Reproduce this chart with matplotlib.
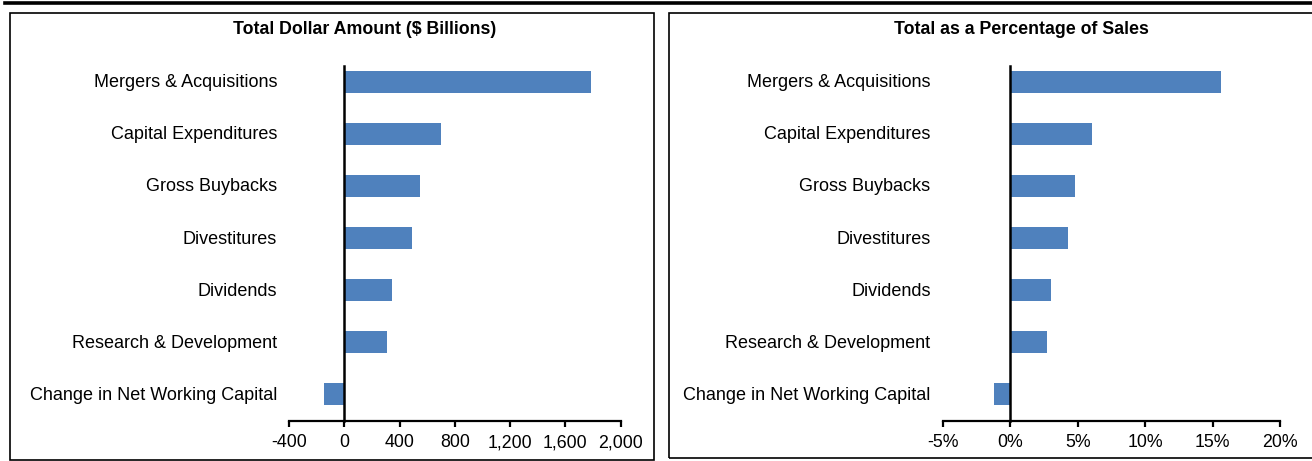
import matplotlib
matplotlib.use("Agg")
import matplotlib.pyplot as plt
from matplotlib.patches import Rectangle
from matplotlib.lines import Line2D
from matplotlib.ticker import FuncFormatter

categories = ["Mergers & Acquisitions", "Capital Expenditures", "Gross Buybacks",
              "Divestitures", "Dividends", "Research & Development",
              "Change in Net Working Capital"]
dollars = [1790, 704, 547, 490, 347, 306, -143]          # $ billions
pct_sales = [15.6, 6.1, 4.8, 4.3, 3.0, 2.7, -1.2]        # % of sales

BLUE = "#4F81BD"
W, H = 1312, 461
plt.rcParams["font.family"] = ["Liberation Sans", "DejaVu Sans"]

fig = plt.figure(figsize=(W / 100, H / 100), dpi=100)


def box(x0, y0, x1, y1):
    # pixel coords, origin top-left
    fig.patches.append(Rectangle((x0 / W, 1 - y1 / H), (x1 - x0) / W, (y1 - y0) / H,
                                 transform=fig.transFigure, fill=False,
                                 edgecolor="black", linewidth=1.2))


fig.lines.append(Line2D([5 / W, 1], [1 - 3 / H] * 2, transform=fig.transFigure,
                        color="black", linewidth=2.6))
box(10, 13, 654, 460)
box(669, 13, 1316, 458)


def panel(rect, vals, lim, step, fmt, title, title_x):
    ax = fig.add_axes(rect)
    ys = range(len(categories))
    ax.barh(ys, vals, height=0.42, color=BLUE, zorder=2)
    ax.set_ylim(6.5, -0.3)
    ax.set_xlim(*lim)
    ax.set_xticks(range(lim[0], lim[1] + 1, step))
    ax.xaxis.set_major_formatter(FuncFormatter(fmt))
    ax.set_yticks(list(ys))
    ax.set_yticklabels([])
    ax.tick_params(axis="y", length=0)
    ax.tick_params(axis="x", direction="out", length=4, width=1.6,
                   labelsize=12.8, pad=6)
    for s in ("top", "right"):
        ax.spines[s].set_visible(False)
    ax.spines["left"].set_position(("data", 0))
    ax.spines["left"].set_linewidth(1.8)
    ax.spines["left"].set_zorder(3)
    ax.spines["bottom"].set_linewidth(1.6)
    # category labels sit left of the plot area
    for y, c in zip(ys, categories):
        ax.text(-0.036, y + 0.02, c, transform=ax.get_yaxis_transform(),
                ha="right", va="center", fontsize=13)
    fig.text(title_x / W, 1 - 29.5 / H, title, ha="center", va="center",
             fontsize=12.8, fontweight="bold")
    return ax


panel([289 / W, 1 - 420.5 / H, 331.5 / W, 354.5 / H], dollars, (-400, 2000), 400,
      lambda v, p: f"{int(v):,}", "Total Dollar Amount ($ Billions)", 365)
panel([942.7 / W, 1 - 420.5 / H, 337.3 / W, 354.5 / H], pct_sales, (-5, 20), 5,
      lambda v, p: f"{int(v)}%", "Total as a Percentage of Sales", 1021)

fig.savefig("out.png", dpi=100)
